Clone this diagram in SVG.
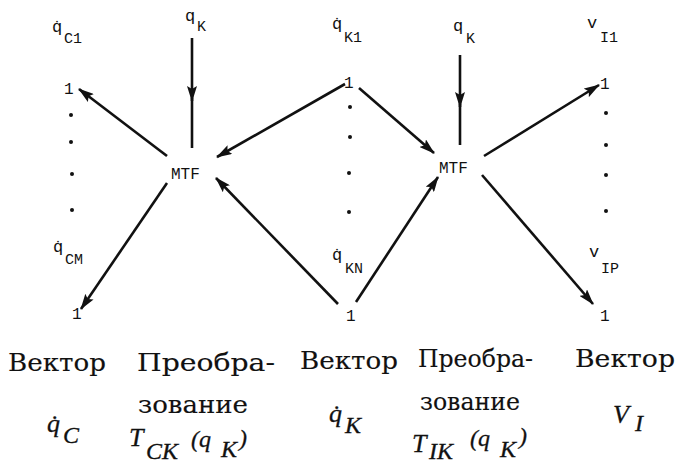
<svg xmlns="http://www.w3.org/2000/svg" width="677" height="466" viewBox="0 0 677 466">
<style>
.lbl{font-family:"Liberation Mono","DejaVu Sans Mono",monospace;font-size:17px;fill:#111}
.sub{font-family:"Liberation Mono","DejaVu Sans Mono",monospace;font-size:15px;fill:#111}
.one{font-family:"Liberation Mono","DejaVu Sans Mono",monospace;font-size:16px;fill:#111}
.node{font-family:"Liberation Mono","DejaVu Sans Mono",monospace;font-size:16px;fill:#111}
.cap{font-family:"DejaVu Serif","Liberation Serif",serif;font-size:25px;fill:#111;stroke:#111;stroke-width:0.15}
.math{font-family:"Liberation Serif","DejaVu Serif",serif;font-style:italic;font-size:26px;fill:#111;stroke:#111;stroke-width:0.3}
.msub{font-family:"Liberation Serif","DejaVu Serif",serif;font-style:italic;font-size:24px;fill:#111;stroke:#111;stroke-width:0.3}
.dot{fill:#111}
.edge{stroke:#111;stroke-width:2.6;fill:none}
.arr{marker-end:url(#ah)}
</style>
<defs>
<marker id="ah" markerUnits="userSpaceOnUse" markerWidth="16" markerHeight="10" refX="15" refY="5" orient="auto">
<path d="M0,0 L16,5 L0,10 L3,5 z" fill="#111"/>
</marker>
</defs>
<rect width="677" height="466" fill="#fff"/>

<g id="col-qC">
<text class="lbl" x="52" y="32">q̇</text><text class="sub" x="64" y="43">C1</text>
<text class="one" x="64" y="94">1</text>
<circle class="dot" cx="71" cy="115" r="2"/>
<circle class="dot" cx="71" cy="142" r="2"/>
<circle class="dot" cx="72" cy="174" r="2"/>
<circle class="dot" cx="72" cy="210" r="2"/>
<text class="lbl" x="53" y="252">q̇</text><text class="sub" x="65" y="264">CM</text>
<text class="one" x="72" y="319">1</text>
</g>

<g id="col-qK">
<text class="lbl" x="332" y="29">q̇</text><text class="sub" x="344" y="42">K1</text>
<text class="one" x="344" y="88">1</text>
<circle class="dot" cx="350" cy="107" r="2"/>
<circle class="dot" cx="350" cy="137" r="2"/>
<circle class="dot" cx="349" cy="173" r="2"/>
<circle class="dot" cx="349" cy="212" r="2"/>
<text class="lbl" x="332" y="260">q̇</text><text class="sub" x="345" y="273">KN</text>
<text class="one" x="346" y="321">1</text>
</g>

<g id="col-vI">
<text class="lbl" x="587" y="28">v</text><text class="sub" x="600" y="42">I1</text>
<text class="one" x="600" y="89">1</text>
<circle class="dot" cx="606" cy="113" r="2"/>
<circle class="dot" cx="606" cy="145" r="2"/>
<circle class="dot" cx="606" cy="175" r="2"/>
<circle class="dot" cx="606" cy="211" r="2"/>
<text class="lbl" x="589" y="257">v</text><text class="sub" x="601" y="273">IP</text>
<text class="one" x="600" y="321">1</text>
</g>

<g id="qK-left">
<text class="lbl" x="185" y="21">q</text><text class="sub" x="197" y="31">K</text>
</g>
<g id="qK-right">
<text class="lbl" x="453" y="31">q</text><text class="sub" x="466" y="43">K</text>
</g>

<g id="mtf-left"><text class="node" x="171" y="179">MTF</text></g>
<g id="mtf-right"><text class="node" x="439" y="173">MTF</text></g>

<g id="connectors">
<line class="edge arr" x1="192" y1="38" x2="192" y2="101"/>
<line class="edge" x1="192" y1="98" x2="192" y2="148"/>
<line class="edge arr" x1="460" y1="55" x2="460" y2="107"/>
<line class="edge" x1="460" y1="104" x2="460" y2="145"/>
<line class="edge arr" x1="167" y1="156" x2="79" y2="89"/>
<line class="edge arr" x1="345" y1="84" x2="217" y2="157"/>
<line class="edge arr" x1="338" y1="304" x2="216" y2="178"/>
<line class="edge arr" x1="167" y1="183" x2="81" y2="309"/>
<line class="edge arr" x1="359" y1="88" x2="434" y2="153"/>
<line class="edge arr" x1="356" y1="302" x2="438" y2="177"/>
<line class="edge arr" x1="484" y1="156" x2="599" y2="85"/>
<line class="edge arr" x1="482" y1="175" x2="593" y2="304"/>
</g>

<g id="caption-qC">
<text class="cap" x="8" y="371" textLength="98" lengthAdjust="spacingAndGlyphs">Вектор</text>
<text class="math" x="47" y="432">q̇</text><text class="msub" x="63" y="443">C</text>
</g>
<g id="caption-TCK">
<text class="cap" x="137" y="371" textLength="138" lengthAdjust="spacingAndGlyphs">Преобра-</text>
<text class="cap" x="138" y="413" textLength="110" lengthAdjust="spacingAndGlyphs">зование</text>
<text class="math" x="129" y="446">T</text><text class="msub" x="146" y="459">CK</text>
<text class="msub" x="191" y="447">(q</text><text class="msub" x="221" y="457">K</text><text class="msub" x="239" y="446">)</text>
</g>
<g id="caption-qK">
<text class="cap" x="300" y="369" textLength="98" lengthAdjust="spacingAndGlyphs">Вектор</text>
<text class="math" x="329" y="422">q̇</text><text class="msub" x="345" y="433">K</text>
</g>
<g id="caption-TIK">
<text class="cap" x="418" y="367" textLength="115" lengthAdjust="spacingAndGlyphs">Преобра-</text>
<text class="cap" x="420" y="410" textLength="100" lengthAdjust="spacingAndGlyphs">зование</text>
<text class="math" x="412" y="452">T</text><text class="msub" x="429" y="459">IK</text>
<text class="msub" x="470" y="446">(q</text><text class="msub" x="500" y="457">K</text><text class="msub" x="519" y="444">)</text>
</g>
<g id="caption-vI">
<text class="cap" x="575" y="367" textLength="100" lengthAdjust="spacingAndGlyphs">Вектор</text>
<text class="math" x="613" y="423">V</text><text class="msub" x="635" y="431">I</text>
</g>
</svg>
